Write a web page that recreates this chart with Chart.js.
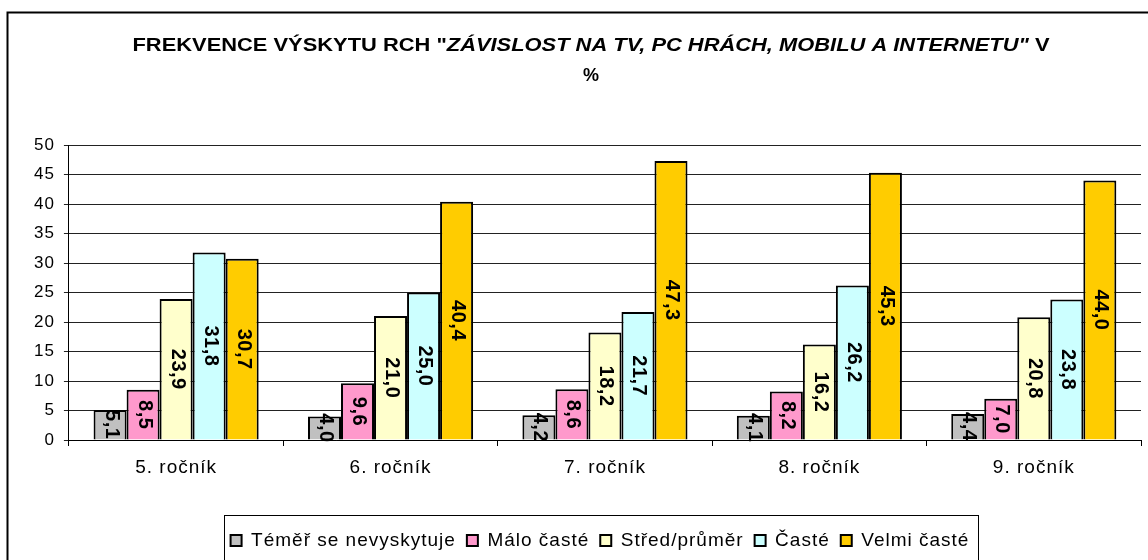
<!DOCTYPE html>
<html>
<head>
<meta charset="utf-8">
<script src="https://cdn.jsdelivr.net/npm/chart.js@4/dist/chart.umd.min.js"></script>
<style>
  html, body { margin: 0; padding: 0; background: #fff; }
  #wrap { width: 1148px; height: 560px; position: relative; }
</style>
</head>
<body>
<div id="wrap"><canvas id="myChart" width="1148" height="560"></canvas></div>
<script>
// data
const categories = ['5. ročník', '6. ročník', '7. ročník', '8. ročník', '9. ročník'];
const seriesNames = ['Téměř se nevyskytuje', 'Málo časté', 'Střed/průměr', 'Časté', 'Velmi časté'];
const temerSeNevyskytuje = [5.1, 4.0, 4.2, 4.1, 4.4];
const maloCaste = [8.5, 9.6, 8.6, 8.2, 7.0];
const stredPrumer = [23.9, 21.0, 18.2, 16.2, 20.8];
const caste = [31.8, 25.0, 21.7, 26.2, 23.8];
const velmiCaste = [30.7, 40.4, 47.3, 45.3, 44.0];
const barColors = ['#C0C0C0', '#FF99CC', '#FFFFCC', '#CCFFFF', '#FFCC00'];

const allSeries = [temerSeNevyskytuje, maloCaste, stredPrumer, caste, velmiCaste];

// sirsi rozestup pisma jako v Excelu
const letterGap = '1px';
const spacing = {
    id: 'spacing',
    beforeUpdate(chart) { chart.ctx.letterSpacing = letterGap; },
    beforeLayout(chart) { chart.ctx.letterSpacing = letterGap; },
    beforeDraw(chart) { chart.ctx.letterSpacing = letterGap; }
};

// titulek se dvema rezy pisma (tucne + tucna kurziva)
const titlePlugin = {
    id: 'mixedTitle',
    afterDraw(chart) {
        const ctx = chart.ctx;
        const parts = [
            { t: 'FREKVENCE VÝSKYTU RCH "', f: 'bold 18px Arial' },
            { t: 'ZÁVISLOST NA TV, PC HRÁCH, MOBILU A INTERNETU"', f: 'italic bold 18px Arial' },
            { t: ' V', f: 'bold 18px Arial' }
        ];
        ctx.save();
        ctx.letterSpacing = '0px';
        ctx.fillStyle = '#000';
        ctx.textBaseline = 'middle';
        ctx.textAlign = 'left';
        let total = 0;
        parts.forEach(p => { ctx.font = p.f; total += ctx.measureText(p.t).width; });
        const sx = 917 / total;
        ctx.translate(591 - 917 / 2, 46);
        ctx.scale(sx, 1);
        let x = 0;
        parts.forEach(p => {
            ctx.font = p.f;
            ctx.fillText(p.t, x, 0);
            x += ctx.measureText(p.t).width;
        });
        ctx.restore();
        ctx.save();
        ctx.letterSpacing = '0px';
        ctx.fillStyle = '#000';
        ctx.font = 'bold 18px Arial';
        ctx.textAlign = 'center';
        ctx.textBaseline = 'middle';
        ctx.fillText('%', 591, 76);
        ctx.restore();
    }
};

// popisky hodnot otocene o 90 stupnu uprostred sloupcu
const valueLabels = {
    id: 'valueLabels',
    afterDatasetsDraw(chart) {
        const ctx = chart.ctx;
        ctx.save();
        ctx.font = 'bold 20px Arial';
        ctx.letterSpacing = '0.5px';
        ctx.fillStyle = '#000';
        ctx.textAlign = 'center';
        ctx.textBaseline = 'middle';
        chart.data.datasets.forEach((ds, i) => {
            chart.getDatasetMeta(i).data.forEach((bar, j) => {
                const cy = (bar.y + bar.base) / 2;
                ctx.save();
                ctx.translate(bar.x + 1, cy);
                ctx.rotate(Math.PI / 2);
                ctx.fillText(ds.data[j].toFixed(1).replace('.', ','), 0, 0);
                ctx.restore();
            });
        });
        ctx.restore();
    }
};

// posun legendy doprava jako v originalu
const legendShift = 17;
const shiftLegend = {
    id: 'shiftLegend',
    afterLayout(chart) {
        const lg = chart.legend;
        lg.left += legendShift;
        lg.right += legendShift;
    }
};

// ramecek grafu a legendy
const frames = {
    id: 'frames',
    afterDraw(chart) {
        const ctx = chart.ctx;
        const lg = chart.legend;
        const pad = lg.options.labels.padding;
        const lineW = lg.lineWidths[0];
        const itemsLeft = (lg.left + pad + lg.right - lineW) / 2;
        ctx.save();
        ctx.strokeStyle = '#000';
        ctx.lineWidth = 2;
        ctx.strokeRect(7.5, 12.5, 1160, 560);
        ctx.lineWidth = 1;
        ctx.strokeRect(Math.round(itemsLeft - 7) + 0.5, Math.round(lg.top) - 4.5,
            Math.round(lineW + 4), 60);
        ctx.restore();
    }
};

const myChartCanvas = document.getElementById('myChart').getContext('2d');

const myChart = new Chart(myChartCanvas, {
    type: 'bar',
    data: {
        labels: categories,
        datasets: allSeries.map((values, i) => ({
            label: seriesNames[i],
            data: values,
            backgroundColor: barColors[i],
            borderColor: '#000',
            borderWidth: 2,
            borderSkipped: 'bottom',
            categoryPercentage: 0.77,
            barPercentage: 1.0
        }))
    },
    options: {
        responsive: false,
        animation: false,
        layout: {
            padding: { left: 25, right: 7, top: 145, bottom: 0 }
        },
        scales: {
            x: {
                grid: { drawOnChartArea: false, color: '#000', tickLength: 6, offset: true },
                border: { color: '#000', width: 1 },
                ticks: { color: '#000', font: { family: 'Arial', size: 19 }, padding: 10 },
                afterFit(scale) { scale.height = 80; }
            },
            y: {
                min: 0,
                max: 50,
                ticks: { stepSize: 5, color: '#000', font: { family: 'Arial', size: 17 }, padding: 9 },
                grid: { color: '#222', tickLength: 5 },
                border: { color: '#000', width: 1 }
            }
        },
        plugins: {
            legend: {
                position: 'bottom',
                labels: {
                    color: '#000',
                    font: { family: 'Arial', size: 19 },
                    boxWidth: 11,
                    boxHeight: 11,
                    padding: 11
                }
            },
            tooltip: { enabled: false }
        }
    },
    plugins: [spacing, shiftLegend, titlePlugin, valueLabels, frames]
});
</script>
</body>
</html>
